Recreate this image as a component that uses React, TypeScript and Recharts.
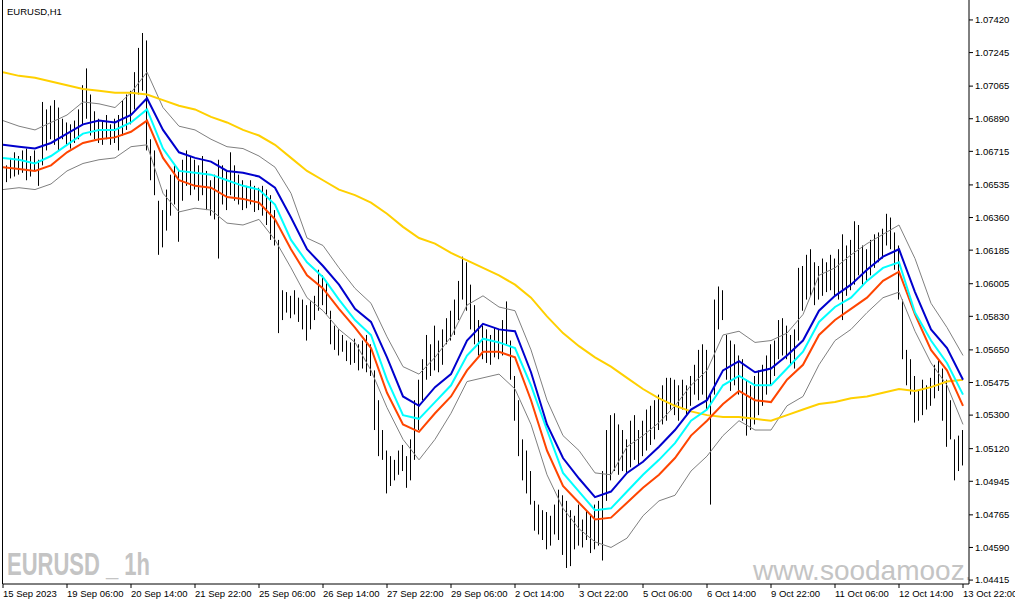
import React from "react";
import { ComposedChart, Bar, Line, XAxis, YAxis } from "recharts";

// EURUSD H1, one entry per 2 hours (high / low)
const barHigh = [
  1.0667, 1.0664, 1.0668, 1.0671, 1.0669, 1.0672, 1.0673, 1.0669, 1.0672, 1.0667,
  1.0698, 1.0694, 1.0696, 1.0699, 1.0695, 1.0689, 1.0687, 1.0686, 1.0688, 1.0694,
  1.0707, 1.0716, 1.0702, 1.0693, 1.0689, 1.0688, 1.0691, 1.0686, 1.0689, 1.0691,
  1.0699, 1.0702, 1.0704, 1.0714, 1.0727, 1.0735, 1.0731, 1.0678, 1.0672, 1.0645,
  1.064, 1.0651, 1.0659, 1.0664, 1.0661, 1.0667, 1.0672, 1.0669, 1.0667, 1.0664,
  1.0669, 1.0661, 1.0656, 1.0659, 1.0667, 1.0664, 1.0661, 1.0671, 1.0664, 1.0659,
  1.0656, 1.0653, 1.0656, 1.0653, 1.0652, 1.0653, 1.0651, 1.0648, 1.064, 1.0624,
  1.0597, 1.0596, 1.0594, 1.0597, 1.0593, 1.0592, 1.0589, 1.0591, 1.0594, 1.0608,
  1.0605, 1.0602, 1.0586, 1.0578, 1.0576, 1.0573, 1.057, 1.0569, 1.0571, 1.0568,
  1.057, 1.0573, 1.0568, 1.0554, 1.0538, 1.0522, 1.0511, 1.0508, 1.0506, 1.0511,
  1.0514, 1.0508, 1.0517, 1.0538, 1.0549, 1.056, 1.0573, 1.0568, 1.0578, 1.057,
  1.0576, 1.0582, 1.0586, 1.0592, 1.0602, 1.0615, 1.0612, 1.06, 1.0589, 1.0581,
  1.0578, 1.0576, 1.0573, 1.0577, 1.0576, 1.0581, 1.0591, 1.057, 1.0551, 1.0538,
  1.0517, 1.0511, 1.05, 1.0484, 1.0482, 1.0479, 1.0478, 1.0476, 1.0482, 1.049,
  1.0487, 1.0484, 1.0479, 1.0476, 1.0482, 1.0474, 1.0479, 1.0476, 1.0482, 1.0484,
  1.05, 1.0522, 1.053, 1.0531, 1.0525, 1.0522, 1.0517, 1.0527, 1.053, 1.0522,
  1.0527, 1.0533, 1.0535, 1.0538, 1.0541, 1.0546, 1.055, 1.055, 1.0549, 1.0546,
  1.0549, 1.0546, 1.0551, 1.0557, 1.0565, 1.0568, 1.0565, 1.0541, 1.0592, 1.0599,
  1.0597, 1.0573, 1.057, 1.0568, 1.0562, 1.056, 1.0549, 1.0546, 1.0551, 1.0554,
  1.0557, 1.0562, 1.0568, 1.057, 1.0581, 1.0582, 1.0578, 1.0573, 1.0576, 1.0609,
  1.061, 1.0616, 1.0619, 1.0612, 1.061, 1.0614, 1.0612, 1.0616, 1.0614, 1.0619,
  1.0627, 1.0621, 1.0624, 1.0634, 1.0632, 1.0621, 1.0619, 1.0624, 1.0627, 1.0628,
  1.063, 1.0638, 1.0636, 1.0628, 1.0621, 1.0592, 1.0565, 1.056, 1.0551, 1.0543,
  1.0549, 1.0546, 1.055, 1.0557, 1.056, 1.0555, 1.0549, 1.0538, 1.0517, 1.0519,
  1.0522,
];

const barLow = [
  1.0653, 1.0655, 1.0657, 1.0658, 1.0659, 1.066, 1.0656, 1.0658, 1.0661, 1.0653,
  1.0664, 1.0672, 1.0678, 1.0675, 1.0672, 1.0678, 1.0675, 1.0673, 1.0676, 1.0678,
  1.0686, 1.0689, 1.068, 1.0678, 1.0676, 1.0675, 1.0678, 1.0675, 1.0676, 1.0672,
  1.068, 1.0683, 1.0686, 1.0694, 1.0702, 1.0704, 1.0672, 1.0656, 1.0648, 1.0616,
  1.062, 1.0629, 1.0637, 1.0643, 1.0623, 1.0645, 1.0653, 1.0648, 1.0651, 1.0645,
  1.0648, 1.064, 1.0637, 1.0635, 1.0614, 1.0643, 1.064, 1.0648, 1.0645, 1.0643,
  1.064, 1.0641, 1.0643, 1.0639, 1.064, 1.0637, 1.0632, 1.0624, 1.0621, 1.0574,
  1.0581, 1.0585, 1.0582, 1.0584, 1.058, 1.0576, 1.057, 1.0576, 1.0581, 1.0586,
  1.0589, 1.0584, 1.0568, 1.0565, 1.0562, 1.0564, 1.0559, 1.0557, 1.0558, 1.0554,
  1.0555, 1.0553, 1.0551, 1.0522, 1.0508, 1.0506, 1.0488, 1.0492, 1.0495, 1.0498,
  1.05, 1.0491, 1.0495, 1.0506, 1.0522, 1.0538, 1.0549, 1.0551, 1.0554, 1.0553,
  1.0557, 1.0568, 1.057, 1.0573, 1.0581, 1.0592, 1.0586, 1.0576, 1.0568, 1.0562,
  1.056, 1.0558, 1.0557, 1.0561, 1.056, 1.0562, 1.0568, 1.0549, 1.0527, 1.0508,
  1.0495, 1.0488, 1.0482, 1.0468, 1.0466, 1.0463, 1.0458, 1.046, 1.0466, 1.0463,
  1.0455, 1.0448, 1.0449, 1.0458, 1.046, 1.0459, 1.0463, 1.0456, 1.0458, 1.046,
  1.0452, 1.0484, 1.0495, 1.05, 1.0498, 1.05, 1.0499, 1.0502, 1.0506, 1.0503,
  1.0508, 1.0511, 1.0514, 1.0517, 1.0522, 1.0525, 1.0527, 1.0533, 1.053, 1.0527,
  1.0533, 1.053, 1.0535, 1.0541, 1.0538, 1.0541, 1.0533, 1.0482, 1.0541, 1.0576,
  1.0581, 1.0549, 1.0543, 1.0546, 1.0541, 1.0527, 1.0519, 1.0522, 1.0525, 1.053,
  1.0535, 1.0541, 1.0546, 1.0551, 1.056, 1.0562, 1.056, 1.0557, 1.0555, 1.057,
  1.0586, 1.0592, 1.0594, 1.0589, 1.0592, 1.0594, 1.0596, 1.0597, 1.0594, 1.0592,
  1.0581, 1.0594, 1.0597, 1.06, 1.0605, 1.06, 1.0602, 1.0605, 1.0609, 1.0612,
  1.0614, 1.0621, 1.0619, 1.0608, 1.0592, 1.056, 1.0546, 1.0541, 1.0526, 1.0527,
  1.053, 1.0533, 1.0535, 1.0539, 1.0543, 1.0527, 1.0513, 1.0517, 1.0495, 1.05,
  1.0503,
];

// indicator lines, one value every 4 bars
const lineStep = 4;
const slowMa = [
  1.0714, 1.0712, 1.0711, 1.0709, 1.0707, 1.0705, 1.0704, 1.0703, 1.0703, 1.0702,
  1.0699, 1.0696, 1.0694, 1.069, 1.0687, 1.0683, 1.068, 1.0675, 1.0668, 1.0661,
  1.0656, 1.0651, 1.0648, 1.0644, 1.0638, 1.0631, 1.0625, 1.0622, 1.0617, 1.0613,
  1.0609, 1.0605, 1.06, 1.0593, 1.0583, 1.0574, 1.0567, 1.0561, 1.0556, 1.055,
  1.0544, 1.0539, 1.0535, 1.0532, 1.053, 1.0529, 1.0529, 1.0528, 1.0527, 1.053,
  1.0533, 1.0536, 1.0537, 1.0539, 1.054, 1.0542, 1.0544, 1.0543, 1.0545, 1.0548,
  1.0549,
];
const highMa = [
  1.0675, 1.0674, 1.0673, 1.0676, 1.0681, 1.0686, 1.0688, 1.0687, 1.0691, 1.07,
  1.0683, 1.0671, 1.0668, 1.0666, 1.0661, 1.066, 1.0658, 1.0652, 1.0636, 1.0619,
  1.061, 1.06, 1.0587, 1.058, 1.0561, 1.054, 1.0535, 1.0545, 1.0552, 1.057,
  1.0579, 1.0576, 1.0575, 1.0553, 1.0525, 1.0507, 1.0496, 1.0486, 1.0489, 1.0499,
  1.0505, 1.0513, 1.0522, 1.0533, 1.0538, 1.0554, 1.0559, 1.0553, 1.0555, 1.0562,
  1.057, 1.0586, 1.0594, 1.06, 1.0608, 1.0615, 1.0619, 1.0596, 1.0576, 1.0566,
  1.0549,
];
const closeMa = [
  1.0668, 1.0667, 1.0665, 1.0669, 1.0675, 1.0681, 1.0683, 1.0683, 1.0687, 1.0694,
  1.0673, 1.0661, 1.066, 1.0659, 1.0656, 1.0653, 1.0651, 1.0643, 1.0624, 1.0612,
  1.0604, 1.0592, 1.0581, 1.0573, 1.0549, 1.053, 1.0528, 1.0537, 1.0546, 1.0562,
  1.0571, 1.0569, 1.0566, 1.0546, 1.0522, 1.0499, 1.0489, 1.0479, 1.048, 1.0489,
  1.0498, 1.0506, 1.0515, 1.0527, 1.0533, 1.0546, 1.0551, 1.0546, 1.0546, 1.0555,
  1.0564, 1.058, 1.0588, 1.0593, 1.0602, 1.0609, 1.0612, 1.0585, 1.057, 1.0558,
  1.0541,
];
const lowMa = [
  1.0663, 1.0662, 1.0661, 1.0664, 1.0671, 1.0676, 1.0678, 1.0679, 1.0682, 1.0688,
  1.0668, 1.0656, 1.0653, 1.0652, 1.0647, 1.0646, 1.0644, 1.0635, 1.0619, 1.0605,
  1.0598, 1.0587, 1.0577, 1.0566, 1.0542, 1.0525, 1.0521, 1.0531, 1.054, 1.0554,
  1.0564, 1.0564, 1.0561, 1.0538, 1.0511, 1.0492, 1.0483, 1.0474, 1.0475, 1.0483,
  1.0491, 1.0498, 1.0507, 1.0519, 1.0527, 1.0536, 1.0543, 1.0538, 1.0537, 1.0549,
  1.0557, 1.0573, 1.0581, 1.0587, 1.0593, 1.0602, 1.0607, 1.0584, 1.0565, 1.0554,
  1.0535,
];
const upperBand = [
  1.0688, 1.0685, 1.0683, 1.0687, 1.0691, 1.0698, 1.0697, 1.0695, 1.0703, 1.0714,
  1.0695, 1.0685, 1.0683, 1.0678, 1.0674, 1.0673, 1.0669, 1.0663, 1.0649, 1.0625,
  1.0621, 1.0609, 1.0598, 1.059, 1.0572, 1.0556, 1.0552, 1.0561, 1.0572, 1.0589,
  1.0594, 1.0588, 1.0586, 1.0565, 1.0538, 1.0519, 1.0511, 1.0499, 1.0498, 1.0513,
  1.0519, 1.0526, 1.0535, 1.0546, 1.0554, 1.0573, 1.0575, 1.0569, 1.057, 1.0574,
  1.0584, 1.0605, 1.0609, 1.0616, 1.0622, 1.0627, 1.0632, 1.0614, 1.059, 1.0577,
  1.0562,
];
const lowerBand = [
  1.0651, 1.0652, 1.0651, 1.0654, 1.0661, 1.0665, 1.0667, 1.0668, 1.0674, 1.0675,
  1.0649, 1.0639, 1.0641, 1.064, 1.0633, 1.0632, 1.0635, 1.0624, 1.0609, 1.0593,
  1.0586, 1.0576, 1.0569, 1.0554, 1.0534, 1.0517, 1.0506, 1.0517, 1.0531, 1.0548,
  1.055, 1.0552, 1.0544, 1.0525, 1.0498, 1.048, 1.0469, 1.0462, 1.0459, 1.0464,
  1.0476, 1.0484, 1.0487, 1.05, 1.0508, 1.0519, 1.0527, 1.0522, 1.0522, 1.0535,
  1.054, 1.0557, 1.057, 1.0576, 1.0585, 1.0593, 1.0596, 1.0575, 1.0558, 1.0546,
  1.0525,
];

const labelStep = 16;
const timeLabels = [
  "15 Sep 2023", "19 Sep 06:00", "20 Sep 14:00", "21 Sep 22:00", "25 Sep 06:00",
  "26 Sep 14:00", "27 Sep 22:00", "29 Sep 06:00", "2 Oct 14:00", "3 Oct 22:00",
  "5 Oct 06:00", "6 Oct 14:00", "9 Oct 22:00", "11 Oct 06:00", "12 Oct 14:00",
  "13 Oct 22:00",
];
const priceTicks = [
  1.0742, 1.07245, 1.07065, 1.0689, 1.06715, 1.06535, 1.0636, 1.06185, 1.06005,
  1.0583, 1.0565, 1.05475, 1.053, 1.0512, 1.04945, 1.04765, 1.0459, 1.04415,
];

const rows = barHigh.map((h, i) => {
  const row: any = { i, hl: [barLow[i], h] };
  if (i % lineStep === 0) {
    const k = i / lineStep;
    row.slowMa = slowMa[k];
    row.highMa = highMa[k];
    row.closeMa = closeMa[k];
    row.lowMa = lowMa[k];
    row.upperBand = upperBand[k];
    row.lowerBand = lowerBand[k];
  }
  return row;
});

const FONT = "'Liberation Sans', Arial, sans-serif";

const HLBar = (props: any) => {
  const { x, y, width, height } = props;
  if (x == null || y == null) return null;
  const cx = Math.floor(x + width / 2);
  return <rect x={cx} y={y} width={1} height={Math.max(height, 1)} fill="#000" />;
};

const TimeTick = ({ x, y, payload }: any) => (
  <text x={x} y={y} dy="0.71em" textAnchor="start" fontSize={9.5} fontFamily={FONT} fill="#000">
    {timeLabels[Math.round(payload.value / labelStep)]}
  </text>
);

export default function App() {
  return (
    <div style={{ position: "absolute", left: 0, top: 0, width: 1015, height: 605, background: "#fff" }}>
      <svg width={1015} height={605} style={{ position: "absolute", left: 0, top: 0 }}>
        <defs>
          <clipPath id="plotClip">
            <rect x={3} y={0} width={966} height={584} />
          </clipPath>
        </defs>
        <text x={7} y={15} fontSize={9.5} fontFamily={FONT} fill="#000">EURUSD,H1</text>
        <text
          x={7}
          y={575}
          fontSize={31}
          fontWeight="bold"
          fontFamily={FONT}
          fill="#c4c4c4"
          textLength={143}
          lengthAdjust="spacingAndGlyphs"
        >
          EURUSD _ 1h
        </text>
        <text x={753} y={580} fontSize={28} fontFamily={FONT} fill="#c4c4c4" clipPath="url(#plotClip)">
          www.soodamooz.com
        </text>
        <line x1={2.5} y1={0} x2={2.5} y2={584} stroke="#000" strokeWidth={1} />
      </svg>
      <div style={{ position: "absolute", left: 0, top: 0 }}>
        <ComposedChart width={1015} height={605} data={rows} margin={{ top: 0, right: 0, bottom: 0, left: 3 }}>
          <XAxis
            dataKey="i"
            type="number"
            domain={[0, 241.5]}
            ticks={timeLabels.map((_, k) => k * labelStep)}
            interval={0}
            allowDataOverflow
            height={21}
            tickSize={4}
            tickMargin={2}
            axisLine={{ stroke: "#000" }}
            tickLine={{ stroke: "#000" }}
            tick={<TimeTick />}
          />
          <YAxis
            orientation="right"
            type="number"
            domain={[1.04394, 1.07527]}
            ticks={priceTicks}
            interval={0}
            allowDataOverflow
            width={46}
            tickSize={4}
            tickMargin={2}
            axisLine={{ stroke: "#000" }}
            tickLine={{ stroke: "#000" }}
            tick={{ fontSize: 9.5, fontFamily: FONT, fill: "#000" }}
            tickFormatter={(v: number) => v.toFixed(5)}
          />
          <Bar dataKey="hl" barSize={1} shape={<HLBar />} isAnimationActive={false} />
          <Line dataKey="upperBand" type="linear" stroke="#808080" strokeWidth={1} dot={false} connectNulls isAnimationActive={false} />
          <Line dataKey="lowerBand" type="linear" stroke="#808080" strokeWidth={1} dot={false} connectNulls isAnimationActive={false} />
          <Line dataKey="slowMa" type="linear" stroke="#ffd000" strokeWidth={2} dot={false} connectNulls isAnimationActive={false} />
          <Line dataKey="lowMa" type="linear" stroke="#ff4500" strokeWidth={2} dot={false} connectNulls isAnimationActive={false} />
          <Line dataKey="closeMa" type="linear" stroke="#00ffff" strokeWidth={2} dot={false} connectNulls isAnimationActive={false} />
          <Line dataKey="highMa" type="linear" stroke="#0000cd" strokeWidth={2} dot={false} connectNulls isAnimationActive={false} />
        </ComposedChart>
      </div>
    </div>
  );
}
